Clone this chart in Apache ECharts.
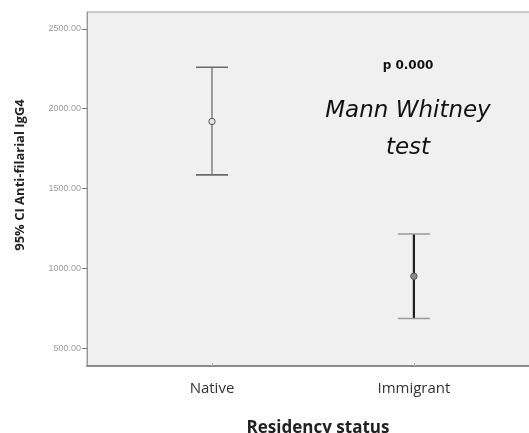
<!DOCTYPE html>
<html>
<head>
<meta charset="utf-8">
<script src="https://cdn.jsdelivr.net/npm/echarts@6/dist/echarts.min.js"></script>
<style>html,body{margin:0;padding:0;background:#fff}#c{width:529px;height:433px}</style>
</head>
<body>
<div id="c"></div>
<script>
const categories = ['Native', 'Immigrant'];
const means = [1920, 950];
const lower = [1585, 685];
const upper = [2260, 1215];
const yTicks = [500, 1000, 1500, 2000, 2500];
const stemColors = ['#6e6e6e', '#1e1e1e'];
const stemWidths = [1.3, 2.2];
const capColors = ['#6a6a6a', '#9a9a9a'];
const markerFill = ['#e6e6e6', '#8a8a8a'];

const chart = echarts.init(document.getElementById('c'), null, {renderer: 'canvas'});
const data = categories.map((c, i) => [i, lower[i], upper[i], means[i]]);

chart.setOption({
  animation: false,
  backgroundColor: '#ffffff',
  grid: {
    left: 87, top: 12, right: -2, bottom: 67,
    show: true, backgroundColor: '#f0f0f0', borderColor: '#9a9a9a', borderWidth: 1,
    outerBoundsMode: 'none'
  },
  xAxis: {
    type: 'value', min: -0.619, max: 1.58,
    axisLine: {show: true, onZero: false, lineStyle: {color: '#8a8a8a', width: 2}},
    axisTick: {show: true, inside: true, length: 3, customValues: [0, 1], lineStyle: {color: '#aaa'}},
    axisLabel: {customValues: [0, 1], formatter: v => categories[Math.round(v)], margin: 15,
      fontFamily: 'Open Sans', fontSize: 15, color: '#333'},
    splitLine: {show: false}
  },
  yAxis: {
    type: 'value', min: 387.5, max: 2606,
    axisLine: {show: true, onZero: false, lineStyle: {color: '#9a9a9a', width: 1}},
    axisTick: {show: true, length: 5, customValues: yTicks, lineStyle: {color: '#777'}},
    axisLabel: {customValues: yTicks, formatter: v => v.toFixed(2), margin: 6,
      fontFamily: 'Liberation Sans', fontSize: 9, color: '#9a9a9a'},
    splitLine: {show: false}
  },
  series: [{
    type: 'custom',
    data: data,
    encode: {x: 0, y: [1, 2, 3]},
    renderItem: function (params, api) {
      const i = api.value(0);
      const lo = api.coord([i, api.value(1)]);
      const hi = api.coord([i, api.value(2)]);
      const m = api.coord([i, api.value(3)]);
      const hw = 16;
      const st = {stroke: stemColors[i], lineWidth: stemWidths[i], fill: null};
      const cs = {stroke: capColors[i], lineWidth: 1.6, fill: null};
      return {
        type: 'group',
        children: [
          {type: 'line', shape: {x1: hi[0], y1: hi[1], x2: lo[0], y2: lo[1]}, style: st},
          {type: 'line', shape: {x1: hi[0] - hw, y1: hi[1], x2: hi[0] + hw, y2: hi[1]}, style: cs},
          {type: 'line', shape: {x1: lo[0] - hw, y1: lo[1], x2: lo[0] + hw, y2: lo[1]}, style: cs},
          {type: 'circle', shape: {cx: m[0], cy: m[1], r: 3.2}, style: {stroke: '#555', lineWidth: 1, fill: markerFill[i]}}
        ]
      };
    }
  }],
  graphic: [
    {type: 'text', x: 20, y: 175, rotation: Math.PI / 2,
      style: {text: '95% CI Anti-filarial IgG4', font: 'bold 13px "Open Sans"', fill: '#222', align: 'center', verticalAlign: 'middle'}},
    {type: 'text', x: 318, y: 428,
      style: {text: 'Residency status', font: 'bold 17px "Open Sans"', fill: '#222', align: 'center', verticalAlign: 'middle'}},
    {type: 'text', x: 408, y: 66, style: {text: 'p 0.000', font: 'bold 12px "DejaVu Sans"', fill: '#111', align: 'center', verticalAlign: 'middle'}},
    {type: 'text', x: 408, y: 111, style: {text: 'Mann Whitney', font: 'italic 23px "DejaVu Sans"', fill: '#111', align: 'center', verticalAlign: 'middle'}},
    {type: 'text', x: 408, y: 148, style: {text: 'test', font: 'italic 23px "DejaVu Sans"', fill: '#111', align: 'center', verticalAlign: 'middle'}}
  ]
});
</script>
</body>
</html>
